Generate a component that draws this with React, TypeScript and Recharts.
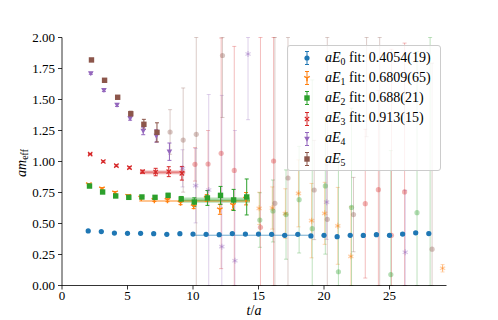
import React from 'react';
import { ScatterChart, Scatter, XAxis, YAxis, ErrorBar, ReferenceArea, ReferenceLine } from 'recharts';

// ---- data ----
const T = [2, 3, 4, 5, 6, 7, 8, 9, 10, 11, 12, 13, 14, 15, 16, 17, 18, 19, 20, 21, 22, 23, 24, 25, 26, 27, 28, 29];

const E0_VAL = [0.440, 0.435, 0.423, 0.421, 0.421, 0.418, 0.413, 0.418, 0.415, 0.413, 0.410, 0.419, 0.415, 0.415, 0.413, 0.405, 0.413, 0.400, 0.405, 0.394, 0.405, 0.404, 0.410, 0.405, 0.415, 0.425, 0.419, null];
const E0_ERR = [0.002, 0.002, 0.002, 0.002, 0.002, 0.003, 0.003, 0.003, 0.003, 0.004, 0.004, 0.004, 0.005, 0.005, 0.005, 0.006, 0.006, 0.006, 0.007, 0.007, 0.007, 0.008, 0.008, 0.008, 0.009, 0.009, 0.010, null];

const E1_VAL = [0.816, 0.783, 0.750, 0.723, 0.708, 0.690, 0.690, 0.668, 0.640, 0.705, 0.614, 0.650, 0.700, 0.622, 0.625, 0.580, 0.743, 0.523, 0.582, 0.481, 0.235, null, null, null, null, null, null, 0.139];
const E1_ERR = [0.005, 0.006, 0.008, 0.009, 0.010, 0.012, 0.014, 0.016, 0.020, 0.028, 0.040, 0.040, 0.050, 0.13, 0.17, 0.20, 0.27, 0.30, 0.25, 0.31, 0.40, null, null, null, null, null, null, 0.03];

const E2_VAL = [0.802, 0.754, 0.722, 0.711, 0.714, 0.711, 0.727, 0.698, 0.673, 0.706, 0.727, 0.690, 0.714, 0.528, 0.601, 0.572, 0.692, 0.458, 0.803, 0.111, 0.630, null, null, 0.088, null, 0.587, 2.3, null];
const E2_ERR = [0.008, 0.010, 0.010, 0.011, 0.012, 0.014, 0.016, 0.020, 0.034, 0.060, 0.072, 0.085, 0.145, 0.22, 0.25, 0.36, 0.43, 1.2, 0.55, 0.9, 0.8, null, null, 1.0, null, 1.3, 2.5, null];

const E3_VAL = [1.060, 1.000, 0.966, 0.950, 0.918, 0.915, 0.918, 0.905, 0.977, 0.980, 1.066, 0.928, null, 0.469, 1.004, null, null, null, null, null, null, 0.660, 0.773, 0.405, 0.755, null, null, null];
const E3_ERR = [0.005, 0.006, 0.007, 0.008, 0.012, 0.030, 0.040, 0.055, 0.135, 0.27, 0.93, 1.0, null, 1.6, 2.0, null, null, null, null, null, null, 0.6, 0.8, 1.5, 1.2, null, null, null];

const E4_VAL = [1.711, 1.574, 1.456, 1.348, 1.246, 1.206, 1.079, 0.945, 0.805, 0.770, 0.313, 0.200, 1.867, null, null, null, null, null, 0.672, null, null, null, null, null, 0.268, null, null, null];
const E4_ERR = [0.008, 0.010, 0.012, 0.015, 0.030, 0.050, 0.070, 0.15, 0.3, 0.77, 1.22, 1.05, 0.53, null, null, null, null, null, 0.3, null, null, null, null, null, 0.5, null, null, null];

const E5_VAL = [1.819, 1.655, 1.518, 1.385, 1.300, 1.235, 1.238, 1.173, 1.219, null, 1.855, null, null, null, 0.663, 0.867, null, 0.770, 0.534, null, 0.572, 2.4, 2.3, null, null, null, 0.293, null];
const E5_ERR = [0.008, 0.010, 0.012, 0.020, 0.040, 0.077, 0.18, 0.42, 2.0, null, 0.5, null, null, null, 2.0, 1.5, null, 0.4, 2.0, null, 0.3, 1.2, 2.5, null, null, null, 1.5, null];

const VALUES = [E0_VAL, E1_VAL, E2_VAL, E3_VAL, E4_VAL, E5_VAL];
const ERRORS = [E0_ERR, E1_ERR, E2_ERR, E3_ERR, E4_ERR, E5_ERR];
const T_SHIFT = [0, 0.05, 0.1, 0.15, 0.2, 0.25];
const LAST_SOLID_T = [28, 14, 14, 9, 8, 7];

const FIT_VAL = [0.4054, 0.6809, 0.688, 0.913];
const FIT_ERR = [0.0019, 0.0065, 0.021, 0.015];
const FIT_START = [10, 5.9, 9.0, 5.95];
const FIT_END = [18.9, 14.35, 14.35, 9.4];
const FIT_TEXT = ['0.4054(19)', '0.6809(65)', '0.688(21)', '0.913(15)'];

const X_TICKS = [0, 5, 10, 15, 20, 25];
const Y_TICKS = [0, 0.25, 0.5, 0.75, 1.0, 1.25, 1.5, 1.75, 2.0];
const X_DOMAIN = [0, 29.35];
const Y_DOMAIN = [0, 2];

// ---- style ----
const COLORS = ['#1f77b4', '#ff7f0e', '#2ca02c', '#d62728', '#9467bd', '#8c564b'];
const RGB = [[31, 119, 180], [255, 127, 14], [44, 160, 44], [214, 39, 40], [148, 103, 189], [140, 86, 75]];
const MARKERS = ['circle', 'tri', 'square', 'x', 'vtri', 'square'];
const FADED_MARKERS = ['circle', 'star', 'circle', 'circle', 'star', 'circle'];
const FONT = 'Liberation Serif';

const rgba = (i: number, a: number) => `rgba(${RGB[i][0]},${RGB[i][1]},${RGB[i][2]},${a})`;

function drawMarker(kind: string, cx: number, cy: number, color: string, key?: string) {
  switch (kind) {
    case 'circle':
      return <circle key={key} cx={cx} cy={cy} r={2.6} fill={color} />;
    case 'square':
      return <rect key={key} x={cx - 2.7} y={cy - 2.7} width={5.4} height={5.4} fill={color} />;
    case 'x':
      return (
        <g key={key} stroke={color} strokeWidth={1.2}>
          <line x1={cx - 2.2} y1={cy - 2.2} x2={cx + 2.2} y2={cy + 2.2} />
          <line x1={cx - 2.2} y1={cy + 2.2} x2={cx + 2.2} y2={cy - 2.2} />
        </g>
      );
    case 'vtri':
      return <polygon key={key} points={`${cx - 2.8},${cy - 2.2} ${cx + 2.8},${cy - 2.2} ${cx},${cy + 2.8}`} fill={color} />;
    case 'star':
      return (
        <g key={key} stroke={color} strokeWidth={1.3}>
          <line x1={cx} y1={cy - 3} x2={cx} y2={cy + 3} />
          <line x1={cx - 2.6} y1={cy - 1.5} x2={cx + 2.6} y2={cy + 1.5} />
          <line x1={cx - 2.6} y1={cy + 1.5} x2={cx + 2.6} y2={cy - 1.5} />
        </g>
      );
    case 'tri':
    default:
      return (
        <g key={key} stroke={color} strokeWidth={1.4}>
          <line x1={cx} y1={cy} x2={cx} y2={cy + 3.2} />
          <line x1={cx} y1={cy} x2={cx - 2.8} y2={cy - 1.6} />
          <line x1={cx} y1={cy} x2={cx + 2.8} y2={cy - 1.6} />
        </g>
      );
  }
}

const makeShape = (kind: string, color: string) => (props: any) => {
  const { cx, cy } = props;
  if (cx == null || cy == null || isNaN(cx) || isNaN(cy)) return <g />;
  return drawMarker(kind, cx, cy, color);
};

type Pt = { x: number; y: number; err: [number, number] };

// error bars are limited to the visible y range (matplotlib clips them at the frame)
function buildSeries(i: number, solid: boolean): Pt[] {
  const out: Pt[] = [];
  T.forEach((t, j) => {
    const v = VALUES[i][j];
    const e = ERRORS[i][j];
    if (v == null) return;
    const isSolid = t <= LAST_SOLID_T[i];
    if (isSolid !== solid) return;
    const ee = e == null ? 0 : e;
    const lo = Math.max(Y_DOMAIN[0], Math.min(Y_DOMAIN[1], v - ee));
    const hi = Math.max(Y_DOMAIN[0], Math.min(Y_DOMAIN[1], v + ee));
    out.push({ x: t + T_SHIFT[i], y: v, err: [v - lo, hi - v] });
  });
  return out;
}

const yTickFmt = (v: number) => v.toFixed(2);

function LegendBox() {
  const rows = [0, 1, 2, 3, 4, 5];
  return (
    <div
      style={{
        position: 'absolute', left: 287, top: 45, width: 154, height: 126, boxSizing: 'border-box',
        border: '1px solid #cccccc', borderRadius: 3, background: 'rgba(255,255,255,0.8)',
        fontFamily: FONT, fontSize: 14, color: '#000',
      }}
    >
      {rows.map((i) => (
        <div key={i} style={{ position: 'absolute', left: 0, top: 2 + i * 20.2, height: 20, display: 'flex', alignItems: 'center', whiteSpace: 'nowrap' }}>
          <svg width={37} height={20} style={{ display: 'block' }}>
            <g stroke={COLORS[i]} strokeWidth={1}>
              <line x1={19} y1={3.5} x2={19} y2={16.5} />
              <line x1={17} y1={3.5} x2={21} y2={3.5} />
              <line x1={17} y1={16.5} x2={21} y2={16.5} />
            </g>
            {drawMarker(MARKERS[i], 19, 10, COLORS[i])}
          </svg>
          <span>
            <i>a</i><i>E</i>
            <span style={{ fontSize: '70%', verticalAlign: '-0.3em' }}>{i}</span>
            {i < 4 ? <span> fit:&nbsp;{FIT_TEXT[i]}</span> : null}
          </span>
        </div>
      ))}
    </div>
  );
}

export default function App() {
  const series = [0, 1, 2, 3, 4, 5];
  return (
    <div style={{ position: 'absolute', left: 0, top: 0, width: 498, height: 320, background: '#fff' }}>
      <ScatterChart width={498} height={320} margin={{ top: 37.5, right: 51.5, bottom: 4.5, left: 12 }}>
        <XAxis
          type="number" dataKey="x" domain={X_DOMAIN} ticks={X_TICKS} allowDataOverflow
          height={30} tickSize={4} tickMargin={1}
          axisLine={{ stroke: '#000', strokeWidth: 0.8 }} tickLine={{ stroke: '#000', strokeWidth: 0.8 }}
          tick={{ fill: '#000', fontSize: 13, fontFamily: FONT }}
        />
        <XAxis
          xAxisId="top" orientation="top" type="number" domain={X_DOMAIN} allowDataOverflow height={0}
          tick={false} tickLine={false} axisLine={{ stroke: '#000', strokeWidth: 0.8 }}
        />
        <YAxis
          type="number" dataKey="y" domain={Y_DOMAIN} ticks={Y_TICKS} allowDataOverflow
          width={50} tickSize={4} tickMargin={3} tickFormatter={yTickFmt}
          axisLine={{ stroke: '#000', strokeWidth: 0.8 }} tickLine={{ stroke: '#000', strokeWidth: 0.8 }}
          tick={{ fill: '#000', fontSize: 13, fontFamily: FONT }}
        />
        <YAxis
          yAxisId="right" orientation="right" type="number" domain={Y_DOMAIN} allowDataOverflow width={0}
          tick={false} tickLine={false} axisLine={{ stroke: '#000', strokeWidth: 0.8 }}
        />

        {FIT_VAL.map((v, i) => (
          <ReferenceArea
            key={`band${i}`} x1={FIT_START[i]} x2={FIT_END[i]} y1={v - FIT_ERR[i]} y2={v + FIT_ERR[i]}
            fill={rgba(i, 0.35)} fillOpacity={1} stroke="none" ifOverflow="hidden"
          />
        ))}
        {FIT_VAL.map((v, i) => (
          <ReferenceLine
            key={`fit${i}`} segment={[{ x: FIT_START[i], y: v }, { x: FIT_END[i], y: v }]}
            stroke={rgba(i, 0.35)} strokeWidth={1.5} ifOverflow="hidden"
          />
        ))}

        {series.map((i) => (
          <Scatter
            key={`faded${i}`} name={`faded${i}`} data={buildSeries(i, false)} isAnimationActive={false}
            shape={makeShape(FADED_MARKERS[i], rgba(i, 0.35))}
          >
            <ErrorBar dataKey="err" direction="y" width={2} stroke={rgba(i, 0.3)} strokeWidth={1} />
          </Scatter>
        ))}
        {series.map((i) => (
          <Scatter
            key={`solid${i}`} name={`aE${i}`} data={buildSeries(i, true)} isAnimationActive={false}
            shape={makeShape(MARKERS[i], COLORS[i])}
          >
            <ErrorBar dataKey="err" direction="y" width={2} stroke={COLORS[i]} strokeWidth={1} />
          </Scatter>
        ))}
      </ScatterChart>

      <LegendBox />

      <div style={{ position: 'absolute', left: 22, top: 163, transform: 'translate(-50%,-50%) rotate(-90deg)', fontFamily: FONT, fontSize: 14, whiteSpace: 'nowrap', color: '#000' }}>
        <i>am</i><span style={{ fontSize: '70%', verticalAlign: '-0.3em' }}>eff</span>
      </div>
      <div style={{ position: 'absolute', left: 254, top: 311, transform: 'translate(-50%,-50%)', fontFamily: FONT, fontSize: 14, whiteSpace: 'nowrap', color: '#000' }}>
        <i>t</i>/<i>a</i>
      </div>
    </div>
  );
}
